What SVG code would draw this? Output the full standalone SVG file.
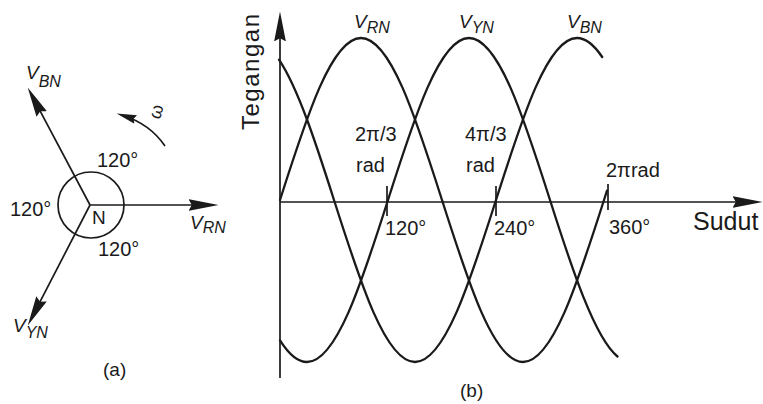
<svg xmlns="http://www.w3.org/2000/svg" width="763" height="404" viewBox="0 0 763 404">
  <defs>
    <style>
      .ln { fill: none; stroke: #1a1a1a; stroke-width: 1.7; }
      .wave { fill: none; stroke: #1a1a1a; stroke-width: 2.3; stroke-linejoin: round; stroke-linecap: round; }
      .t { font-family: "Liberation Sans", Arial, sans-serif; fill: #1a1a1a; font-size: 20px; }
      .v { font-family: "Liberation Sans", Arial, sans-serif; fill: #1a1a1a; font-size: 19px; font-style: italic; }
      .sub { font-size: 16px; }
    </style>
    <marker id="ah" markerUnits="userSpaceOnUse" markerWidth="30" markerHeight="12" viewBox="0 0 28 11" refX="20" refY="5.5" orient="auto">
      <path d="M0,0 L28,5.5 L0,11 L3,5.5 z" fill="#1a1a1a"/>
    </marker>
    <marker id="ahs" markerUnits="userSpaceOnUse" markerWidth="20" markerHeight="10" viewBox="0 0 18 8" refX="12" refY="4" orient="auto">
      <path d="M0,0 L18,4 L0,8 L2,4 z" fill="#1a1a1a"/>
    </marker>
  </defs>
  <rect width="763" height="404" fill="#ffffff"/>

  <!-- (a) phasor diagram -->
  <g id="phasor-hub">
    <circle cx="91" cy="205" r="33" class="ln"/>
    <text x="92" y="224" class="t" style="font-size:19px">N</text>
  </g>
  <g id="connectors">
    <line x1="90" y1="205" x2="210" y2="205" class="ln" marker-end="url(#ah)"/>
    <line x1="90" y1="205" x2="31.7" y2="95.1" class="ln" marker-end="url(#ah)"/>
    <line x1="90" y1="205" x2="31.7" y2="317.9" class="ln" marker-end="url(#ah)"/>
    <path d="M165,146 Q150,124 123,115.5" class="ln" stroke-width="2.2" marker-end="url(#ahs)"/>
  </g>
  <g id="phasor-labels">
    <text x="190" y="229" class="v">V<tspan class="sub" dy="4">RN</tspan></text>
    <text x="26" y="79" class="v">V<tspan class="sub" dy="8">BN</tspan></text>
    <text x="13" y="332" class="v">V<tspan class="sub" dy="6">YN</tspan></text>
    <text x="0" y="0" class="t" style="font-size:18px" transform="translate(160,120) rotate(-75)">ω</text>
    <text x="97" y="167" class="t">120°</text>
    <text x="10" y="216" class="t">120°</text>
    <text x="98" y="256" class="t">120°</text>
    <text x="103" y="376" class="t" style="font-size:19px">(a)</text>
  </g>

  <!-- (b) waveforms -->
  <g id="axes">
    <line x1="280" y1="378" x2="280" y2="20" class="ln" marker-end="url(#ah)"/>
    <line x1="280" y1="202" x2="754" y2="202" class="ln" marker-end="url(#ah)"/>
    <line x1="387" y1="186" x2="387" y2="216" class="ln"/>
    <line x1="496" y1="186" x2="496" y2="216" class="ln"/>
    <line x1="608" y1="184" x2="608" y2="210" class="ln"/>
  </g>
  <g id="wave-VRN">
    <path class="wave" d="M280,200 C306.42,117 331.68,38 361,38 C390.32,38 415.58,117 442,200 C468.42,283 493.68,362 523,362 C552.32,362 577.58,283 604,200 L607,190.6"/>
  </g>
  <g id="wave-VYN">
    <path class="wave" d="M280,340.3 C289,354.4 298,362 307,362 C336.32,362 361.58,283 388,200 C414.42,117 439.68,38 469,38 C498.32,38 523.58,117 550,200 C572.5,270.7 595,338.2 617.5,356.5"/>
  </g>
  <g id="wave-VBN">
    <path class="wave" d="M279,59.7 C298,88 316,143.5 334,200 C360.42,283 385.68,362 415,362 C444.32,362 469.58,283 496,200 C522.42,117 547.68,38 577,38 C585.4,38 593.8,44.6 602.2,57"/>
  </g>
  <g id="wave-labels">
    <text x="354" y="28" class="v">V<tspan class="sub" dy="5">RN</tspan></text>
    <text x="459" y="28" class="v">V<tspan class="sub" dy="5">YN</tspan></text>
    <text x="567" y="28" class="v">V<tspan class="sub" dy="5">BN</tspan></text>
  </g>
  <g id="axis-labels">
    <text x="0" y="0" class="t" style="font-size:24px" textLength="116" lengthAdjust="spacing" transform="translate(259,130) rotate(-90)">Tegangan</text>
    <text x="693" y="230" class="t" style="font-size:25px">Sudut</text>
    <text x="355" y="141" class="t">2π/3</text>
    <text x="356" y="172" class="t">rad</text>
    <text x="465" y="141" class="t">4π/3</text>
    <text x="466" y="172" class="t">rad</text>
    <text x="606" y="177" class="t">2πrad</text>
    <text x="385" y="235" class="t">120°</text>
    <text x="494" y="235" class="t">240°</text>
    <text x="609" y="234" class="t">360°</text>
    <text x="460" y="397" class="t" style="font-size:19px">(b)</text>
  </g>
</svg>
